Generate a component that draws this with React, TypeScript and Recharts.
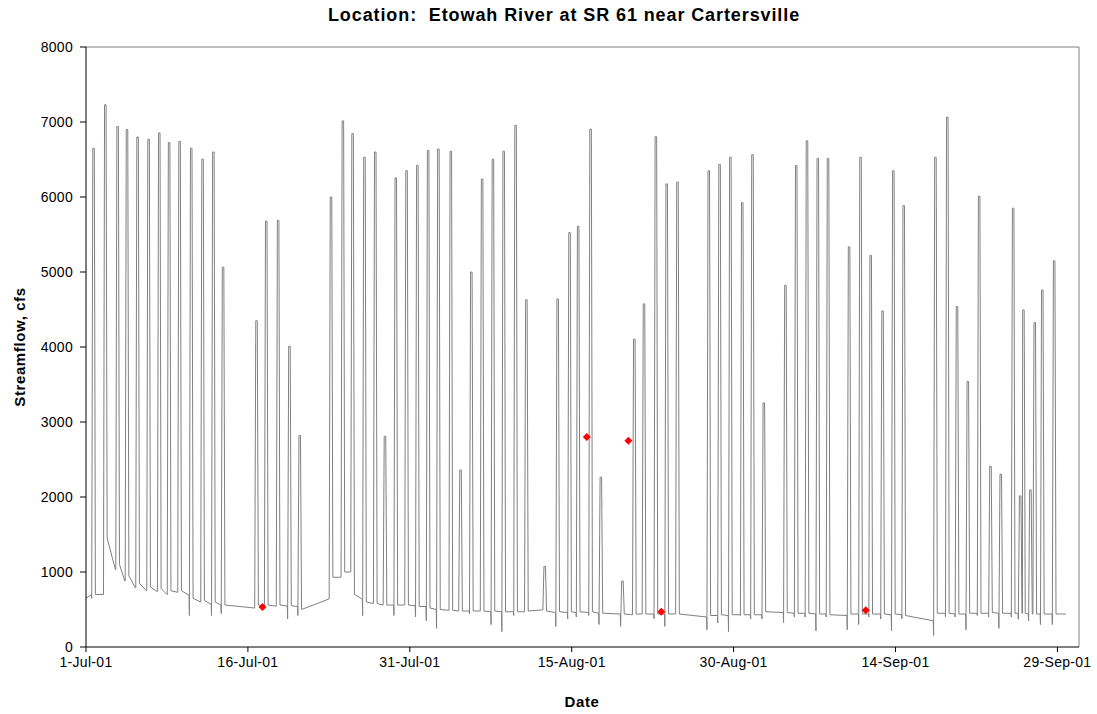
import { ComposedChart, Line, Scatter, XAxis, YAxis, ReferenceLine } from "recharts";

const xTicks = [0, 15, 30, 45, 60, 75, 90];
const xTickLabels = ["1-Jul-01", "16-Jul-01", "31-Jul-01", "15-Aug-01", "30-Aug-01", "14-Sep-01", "29-Sep-01"];
const yTicks = [0, 1000, 2000, 3000, 4000, 5000, 6000, 7000, 8000];

// daily release pulses: day of peak (days since 1-Jul), flows in cfs
const peakDay = [
  0.7, 1.79, 2.93, 3.8, 4.78, 5.8, 6.79, 7.7, 8.67, 9.75, 10.8, 11.8, 12.7,
  15.8, 16.7, 17.8, 18.85, 19.8,
  22.7, 23.8, 24.7, 25.8, 26.8, 27.7, 28.7, 29.7, 30.7, 31.7, 32.65, 33.8, 34.7, 35.7, 36.7, 37.7, 38.7, 39.8, 40.8,
  42.5,
  43.7, 44.8, 45.6, 46.75, 47.7, 49.7, 50.8, 51.7, 52.8, 53.8, 54.8,
  57.7, 58.7, 59.7, 60.8, 61.75, 62.8,
  64.8, 65.8, 66.8, 67.8, 68.75,
  70.7, 71.76, 72.7, 73.8, 74.8, 75.76,
  78.7, 79.8, 80.7, 81.7, 82.75, 83.8, 84.75, 85.9, 86.55, 86.85, 87.5, 87.9, 88.6, 89.7,
];
const peakFlow = [
  6650, 7230, 6940, 6900, 6800, 6770, 6855, 6725, 6740, 6650, 6505, 6600, 5065,
  4350, 5680, 5690, 4010, 2820,
  6000, 7015, 6845, 6530, 6600, 2810, 6255, 6350, 6420, 6620, 6640, 6610, 2360, 5000, 6240, 6505, 6610, 6955, 4630,
  1075,
  4640, 5525, 5610, 6905, 2265, 880, 4105, 4575, 6805, 6175, 6200,
  6350, 6435, 6530, 5925, 6565, 3255,
  4820, 6420, 6750, 6515, 6515,
  5335, 6530, 5220, 4480, 6350, 5885,
  6530, 7065, 4540, 3540, 6010, 2410, 2305, 5850, 2015, 4495, 2095, 4325, 4760, 5150,
];
const baseFlow = [
  700, 700, 1030, 880, 790, 750, 740, 700, 730, 690, 600, 570, 560,
  520, 545, 545, 545, 540,
  640, 930, 1000, 640, 580, 560, 560, 560, 550, 540, 500, 490, 480, 480, 480, 470, 470, 470, 470,
  495,
  460, 460, 460, 460, 450, 440, 430, 440, 440, 440, 440,
  400, 420, 420, 430, 430, 430,
  460, 450, 450, 440, 440,
  420, 440, 440, 440, 430, 430,
  350, 450, 440, 440, 450, 450, 450, 450, 450, 450, 440, 440, 440, 440,
];
const dipFlow = [
  650, 700, 1030, 880, 790, 750, 740, 700, 730, 420, 600, 420, 445,
  520, 545, 545, 375, 420,
  640, 930, 1000, 420, 580, 560, 420, 560, 400, 350, 250, 490, 480, 440, 480, 300, 205, 420, 470,
  495,
  275, 375, 400, 420, 300, 275, 430, 440, 375, 275, 440,
  230, 320, 205, 420, 375, 375,
  325, 400, 400, 215, 400,
  230, 300, 400, 375, 215, 375,
  155, 400, 400, 230, 420, 400, 250, 400, 370, 450, 350, 440, 300, 300,
];
const tailFlow = [
  700, 1450, 1100, 950, 850, 800, 780, 750, 750, 650, 620, 600, 560,
  560, 560, 560, 550, 500,
  930, 1000, 700, 600, 580, 560, 560, 560, 540, 520, 500, 490, 480, 480, 480, 480, 470, 470, 480,
  480,
  470, 470, 470, 470, 450, 440, 440, 440, 440, 440, 440,
  420, 430, 430, 430, 430, 470,
  460, 450, 450, 440, 430,
  440, 440, 440, 440, 440, 420,
  450, 450, 440, 450, 450, 460, 450, 450, 450, 450, 440, 440, 440, 440,
];

const redDay = [16.35, 46.4, 50.25, 53.3, 72.25];
const redFlow = [535, 2800, 2750, 470, 490];

// each release: base -> short dip -> peak held a few hours -> drop back to tail
const flowData: { t: number; v: number }[] = [{ t: 0, v: 650 }];
let lastT = 0;
peakDay.forEach((t, i) => {
  const start = Math.max(t - 0.2, lastT + 0.01);
  flowData.push(
    { t: start, v: baseFlow[i] },
    { t: start + 0.03, v: dipFlow[i] },
    { t: t - 0.07, v: peakFlow[i] },
    { t: t + 0.07, v: peakFlow[i] },
    { t: t + 0.17, v: tailFlow[i] }
  );
  lastT = t + 0.17;
});
flowData.push({ t: 90.8, v: 440 });

const redData = redDay.map((t, i) => ({ t, v: redFlow[i] }));

const font = "'Liberation Sans', Arial, sans-serif";

const RedDiamond = (props: any) => {
  const { cx, cy } = props;
  if (cx == null || cy == null) return null;
  const r = 4;
  return <polygon points={`${cx},${cy - r} ${cx + r},${cy} ${cx},${cy + r} ${cx - r},${cy}`} fill="#ff0000" />;
};

export default function App() {
  return (
    <div style={{ position: "absolute", left: 0, top: 0, width: 1097, height: 714, background: "#fff", fontFamily: font }}>
      <div
        style={{
          position: "absolute",
          top: 5,
          left: 564,
          transform: "translateX(-50%)",
          fontWeight: "bold",
          fontSize: 18,
          letterSpacing: 0.9,
          whiteSpace: "pre",
        }}
      >
        {"Location:  Etowah River at SR 61 near Cartersville"}
      </div>
      <div
        style={{
          position: "absolute",
          top: 347,
          left: 19,
          transform: "translate(-50%, -50%) rotate(-90deg)",
          fontWeight: "bold",
          fontSize: 15,
          letterSpacing: 0.6,
          whiteSpace: "pre",
        }}
      >
        Streamflow, cfs
      </div>
      <div
        style={{
          position: "absolute",
          top: 701,
          left: 582,
          transform: "translate(-50%, -50%)",
          fontWeight: "bold",
          fontSize: 15,
          letterSpacing: 0.6,
        }}
      >
        Date
      </div>
      <ComposedChart width={1097} height={714} margin={{ top: 47, right: 18, left: 26, bottom: 37 }}>
        <XAxis
          type="number"
          dataKey="t"
          domain={[0, 92]}
          ticks={xTicks}
          allowDataOverflow
          tickFormatter={(d: number) => xTickLabels[xTicks.indexOf(d)]}
          height={30}
          tickSize={5}
          tickMargin={5}
          axisLine={{ stroke: "#000" }}
          tickLine={{ stroke: "#000" }}
          tick={{ fill: "#000", fontSize: 14, fontFamily: font, letterSpacing: 0.3 }}
        />
        <YAxis
          type="number"
          domain={[0, 8000]}
          ticks={yTicks}
          width={60}
          tickSize={6}
          tickMargin={7}
          axisLine={{ stroke: "#000" }}
          tickLine={{ stroke: "#000" }}
          tick={{ fill: "#000", fontSize: 14, fontFamily: font, letterSpacing: 0.3 }}
        />
        <ReferenceLine y={8000} stroke="#808080" />
        <ReferenceLine x={92} stroke="#808080" />
        <Line
          data={flowData}
          dataKey="v"
          type="linear"
          stroke="#808080"
          strokeWidth={1}
          dot={false}
          isAnimationActive={false}
        />
        <Scatter data={redData} dataKey="v" shape={RedDiamond} legendType="none" isAnimationActive={false} />
      </ComposedChart>
    </div>
  );
}
